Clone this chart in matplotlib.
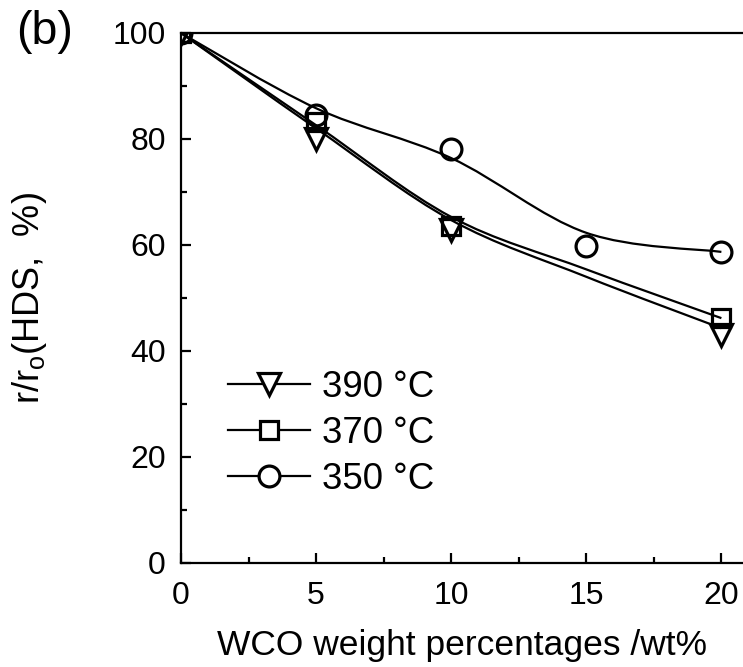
import numpy as np
import matplotlib
matplotlib.use("Agg")
import matplotlib.pyplot as plt
from matplotlib.path import Path
from matplotlib.patches import PathPatch
from matplotlib.lines import Line2D
from matplotlib.ticker import MultipleLocator

plt.rcParams["font.family"] = ["Liberation Sans", "DejaVu Sans"]
plt.rcParams["mathtext.fontset"] = "custom"
plt.rcParams["mathtext.rm"] = "Liberation Sans"
plt.rcParams["mathtext.it"] = "Liberation Sans:italic"

# WCO content (wt%)
wco = [0, 5, 10, 15, 20]

# measured relative HDS rates (%)
x_390 = [0, 5, 10, 20]
r_390 = [100, 80.0, 62.8, 43.0]
x_370 = [0, 5, 10, 20]
r_370 = [100, 83.2, 63.5, 46.2]
x_350 = [0, 5, 10, 15, 20]
r_350 = [100, 84.5, 78.2, 59.8, 58.7]

# smoothed trend curves through the WCO levels
fit_390 = [100, 82.0, 64.7, 54.0, 44.3]
fit_370 = [100, 82.6, 65.3, 55.4, 46.2]
fit_350 = [100, 85.8, 76.4, 62.3, 58.7]

labels = ["390 °C", "370 °C", "350 °C"]


def smooth_path(xs, ys):
    pts = np.column_stack([xs, ys]).astype(float)
    ext = np.vstack([pts[0], pts, pts[-1]])
    verts = [tuple(pts[0])]
    codes = [Path.MOVETO]
    for i in range(len(pts) - 1):
        p0, p1, p2, p3 = ext[i], ext[i + 1], ext[i + 2], ext[i + 3]
        c1 = p1 + (p2 - p0) / 6.0
        c2 = p2 - (p3 - p1) / 6.0
        verts += [tuple(c1), tuple(c2), tuple(p2)]
        codes += [Path.CURVE4] * 3
    return Path(verts, codes)


fig = plt.figure(figsize=(7.43, 6.67), dpi=100)
ax = fig.add_axes([181 / 743, 1 - 563 / 667, 1 - 181 / 743, 530 / 667])

for fit in (fit_350, fit_370, fit_390):
    ax.add_patch(PathPatch(smooth_path(wco, fit), fill=False,
                           edgecolor="black", lw=1.6, zorder=2))

MEW = 2.3
MS = {"v": 16.5, "s": 13, "o": 15}
mk = dict(color="black", ls="none", mfc="none", mew=MEW, zorder=3)
ax.plot(x_350, r_350, marker="o", ms=MS["o"], **mk)
ax.plot(x_370, r_370, marker="s", ms=MS["s"], **mk)
ax.plot(x_390, r_390, marker="v", ms=MS["v"], **mk)

ax.set_xlim(0, 20.8)
ax.set_ylim(0, 100)
ax.spines["right"].set_visible(False)
for s in ("left", "bottom", "top"):
    ax.spines[s].set_linewidth(1.6)

ax.xaxis.set_major_locator(MultipleLocator(5))
ax.xaxis.set_minor_locator(MultipleLocator(2.5))
ax.yaxis.set_major_locator(MultipleLocator(20))
ax.yaxis.set_minor_locator(MultipleLocator(10))
ax.tick_params(which="both", direction="in", top=False, right=False,
               width=1.6, labelsize=23)
ax.tick_params(axis="x", pad=13)
ax.tick_params(axis="y", pad=11)
ax.tick_params(which="major", length=7.5)
ax.tick_params(which="minor", length=4)

ax.set_xlabel("WCO weight percentages /wt%", fontsize=25.5, labelpad=13)
ax.set_ylabel(r"r/r$_\mathrm{o}$(HDS,  %)", fontsize=26)
ax.yaxis.set_label_coords(-0.235, 0.5)

handles = [
    Line2D([], [], color="black", lw=1.6, marker=m, ms=MS[m], mfc="white", mew=MEW)
    for m in ("v", "s", "o")
]
ax.legend(handles, labels, loc="upper left", bbox_to_anchor=(0.084, 0.365),
          frameon=False, fontsize=26.4, handlelength=2.23, handletextpad=0.33,
          labelspacing=0.30, borderaxespad=0, borderpad=0)

fig.text(16 / 743, 1 - 44 / 667, "(b)", fontsize=33.5, ha="left", va="baseline")

fig.savefig("out.png", dpi=100)
